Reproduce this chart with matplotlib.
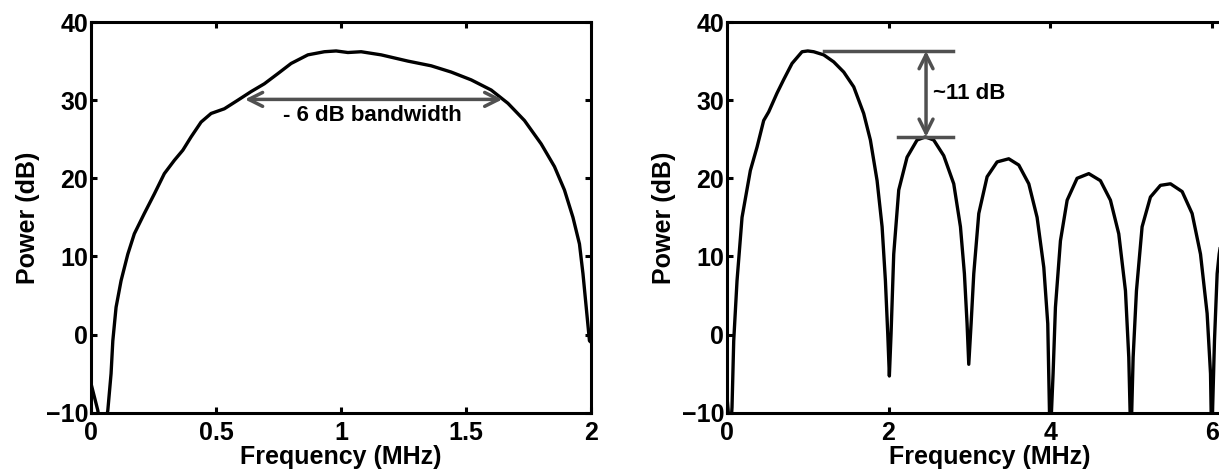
import matplotlib
matplotlib.use('Agg')
import matplotlib.pyplot as plt

# left panel: single element spectrum
freq_a = [0.0, 0.027, 0.045, 0.067, 0.08, 0.087, 0.1, 0.12, 0.147, 0.173, 0.213,
          0.253, 0.293, 0.333, 0.367, 0.4, 0.44, 0.48, 0.533, 0.587, 0.64,
          0.693, 0.747, 0.8, 0.867, 0.933, 0.98, 1.027, 1.08, 1.16, 1.267,
          1.36, 1.44, 1.52, 1.6, 1.667, 1.733, 1.8, 1.853, 1.893, 1.927,
          1.953, 1.967, 1.98, 1.993, 2.0]
power_a = [-6.3, -9.7, -14.0, -9.7, -5.0, -0.8, 3.5, 6.9, 10.3, 12.9, 15.5,
           18.0, 20.6, 22.3, 23.6, 25.3, 27.2, 28.3, 28.9, 30.0, 31.1,
           32.1, 33.4, 34.7, 35.8, 36.2, 36.3, 36.1, 36.2, 35.8, 35.0,
           34.4, 33.6, 32.6, 31.3, 29.6, 27.4, 24.4, 21.5, 18.5, 15.0,
           11.6, 7.8, 3.5, -0.8, -1.0]

# right panel: spectrum with side lobes
freq_b = [0.0, 0.04, 0.062, 0.083, 0.124, 0.186, 0.289, 0.372, 0.454, 0.516, 0.619,
          0.70, 0.805, 0.929, 1.0, 1.073, 1.197, 1.321, 1.445, 1.569, 1.692,
          1.775, 1.858, 1.92, 1.961, 1.99, 2.01,
          2.031, 2.064, 2.126, 2.229, 2.353, 2.456, 2.559, 2.683, 2.807, 2.89,
          2.939, 2.972, 2.993,
          3.022, 3.055, 3.117, 3.22, 3.344, 3.488, 3.612, 3.736, 3.839, 3.922,
          3.971, 3.983, 4.0,
          4.037, 4.066, 4.128, 4.211, 4.334, 4.479, 4.623, 4.747, 4.85, 4.933,
          4.974, 5.0,
          5.028, 5.069, 5.139, 5.242, 5.366, 5.49, 5.635, 5.758, 5.862, 5.944,
          5.986, 6.0,
          6.035, 6.068, 6.093, 6.15]
power_b = [-8.0, -13.0, -9.3, -0.8, 6.9, 15.0, 21.0, 24.0, 27.4, 28.5, 30.9,
           32.6, 34.7, 36.2, 36.3, 36.2, 35.8, 34.9, 33.6, 31.7, 28.3,
           24.9, 19.7, 13.8, 6.9, 0.1, -5.3,
           0.1, 10.3, 18.5, 22.7, 24.9, 25.3, 24.9, 22.9, 19.3, 13.8,
           7.8, 1.4, -3.8,
           1.4, 7.8, 15.5, 20.2, 22.1, 22.5, 21.7, 19.3, 15.0, 8.6,
           1.4, -5.0, -14.0,
           -5.0, 3.5, 12.0, 17.2, 20.0, 20.6, 19.7, 17.2, 12.9, 5.6,
           -2.9, -14.0,
           -2.9, 5.6, 13.8, 17.6, 19.1, 19.3, 18.3, 15.5, 10.3, 2.7,
           -5.0, -14.0,
           -0.8, 7.8, 10.3, 14.0]

y_ticks = [-10, 0, 10, 20, 30, 40]
x_ticks_a = [0, 0.5, 1, 1.5, 2]
x_tick_labels_a = ['0', '0.5', '1', '1.5', '2']
x_ticks_b = [0, 2, 4, 6]

plt.rcParams['font.family'] = ['Liberation Sans', 'DejaVu Sans']
plt.rcParams['font.weight'] = 'bold'
plt.rcParams['font.size'] = 18

fig = plt.figure(figsize=(12.19, 4.69), dpi=100)
ax1 = fig.add_axes([0.0747, 0.120, 0.4103, 0.833])
ax2 = fig.add_axes([0.5964, 0.120, 0.4307, 0.833])


def style(ax):
    for s in ax.spines.values():
        s.set_linewidth(2.2)
    ax.set_ylim(-10, 40)
    ax.set_yticks(y_ticks)
    ax.tick_params(direction='in', top=True, right=True, length=4, width=2.2)
    ax.tick_params(axis='y', pad=2)
    ax.tick_params(axis='x', pad=6)
    ax.set_xlabel('Frequency (MHz)', fontweight='bold', labelpad=0)
    ax.set_ylabel('Power (dB)', fontweight='bold', labelpad=4)


ax1.plot(freq_a, power_a, color='black', lw=2.4, solid_joinstyle='round')
ax1.set_xlim(0, 2)
ax1.set_xticks(x_ticks_a)
ax1.set_xticklabels(x_tick_labels_a)
style(ax1)
ax1.annotate('', xy=(0.615, 30.1), xytext=(1.645, 30.1),
             arrowprops=dict(arrowstyle='<->', color='#505050', lw=2.5, mutation_scale=25,
                             shrinkA=0, shrinkB=0))
ax1.text(1.124, 28.0, '- 6 dB bandwidth', ha='center', va='center', fontsize=16, fontweight='bold')

ax2.plot(freq_b, power_b, color='black', lw=2.4, solid_joinstyle='round')
ax2.set_xlim(0, 6.5)
ax2.set_xticks(x_ticks_b)
style(ax2)
main_peak = max(power_b)
side_peak = max(p for f, p in zip(freq_b, power_b) if 2.0 < f < 3.0)
ax2.plot([1.197, 2.8], [main_peak, main_peak], color='#505050', lw=2.5)
ax2.plot([2.113, 2.8], [side_peak, side_peak], color='#505050', lw=2.5)
ax2.annotate('', xy=(2.464, side_peak), xytext=(2.464, main_peak),
             arrowprops=dict(arrowstyle='<->', color='#505050', lw=2.5, mutation_scale=25,
                             shrinkA=0, shrinkB=0))
ax2.text(2.555, 30.85, '~11 dB', ha='left', va='center', fontsize=16, fontweight='bold')

fig.savefig('out.png', dpi=100)
